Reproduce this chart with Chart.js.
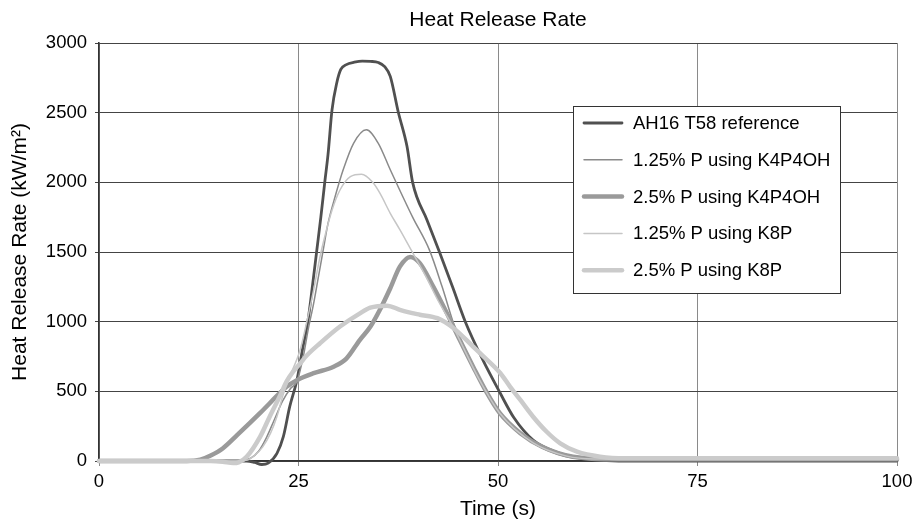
<!DOCTYPE html>
<html><head><meta charset="utf-8">
<script src="https://cdn.jsdelivr.net/npm/chart.js@4/dist/chart.umd.min.js"></script>
<style>html,body{margin:0;padding:0;background:#fff}#wrap{width:914px;height:524px}</style>
</head><body><div id="wrap"><canvas id="c" width="914" height="524"></canvas></div>
<script>
// ---- data ----
const seriesNames = ["AH16 T58 reference", "1.25% P using K4P4OH", "2.5% P using K4P4OH", "1.25% P using K8P", "2.5% P using K8P"];

const refTime = [0,10,18.5,19.5,20.4,21.2,22.3,23.1,23.9,24.8,25.5,26.2,26.8,27.3,27.8,28.3,28.7,29.2,29.8,30.3,31,32,33,34,35,35.8,36.5,37.5,38.6,39.3,41.1,42.7,44.3,45.9,48.1,50.2,52,54.4,57,60,63,66,80,92,100];
const refHRR  = [0,0,0,-10,-25,-15,55,175,390,580,800,1012,1280,1515,1750,2005,2200,2520,2715,2810,2845,2862,2870,2868,2860,2830,2760,2505,2257,2000,1730,1495,1250,1000,725,495,310,150,70,25,5,0,0,0,0];

const k4p125Time = [0,10,17.5,19,20,21,22,23,24,24.8,25.6,26.2,26.9,27.5,28.1,28.7,29.6,30.6,31.9,33.5,35,36.5,39.3,41.4,43,44.6,47.7,50.2,54.4,58.6,62,70,100];
const k4p125HRR  = [0,0,0,20,70,170,300,430,520,570,749,940,1132,1323,1515,1705,1900,2090,2280,2377,2280,2090,1750,1515,1250,960,580,345,130,30,12,10,10];

const k4p25Time = [0,11,12.7,14,15.5,17.3,20.2,22.7,23.5,24.8,26.9,29.4,31,32.7,34,35.2,36.5,37.7,39,40.2,41.9,43.6,45.2,46.9,48.6,50.2,52.8,55.6,59.4,65,80,100];
const k4p25HRR  = [0,0,10,40,90,185,345,490,533,580,630,677,735,870,963,1085,1240,1395,1465,1420,1250,1060,870,675,490,345,200,100,30,12,12,12];

const k8p125Time = [0,17,18.5,19.5,20.5,21.5,22.3,23.1,23.9,25.2,26,26.9,27.7,28.4,29.2,30.2,31.5,32.9,34.3,35.2,36.5,37.7,39.3,41,42.5,44.3,47.7,50.2,54.4,58.6,62,70,100];
const k8p125HRR  = [0,0,5,40,100,200,320,480,605,797,989,1228,1467,1635,1800,1945,2041,2058,2000,1922,1778,1660,1495,1320,1150,970,580,345,130,35,15,15,15];

const k8p25Time = [0,14,15.5,16.8,17.5,18.5,20.2,21.4,22.7,23.5,24.3,25.2,26,27.7,30.2,32.7,34,36.1,37.7,38.6,40.2,42.4,44.4,46.9,48.2,50.3,51.5,52.8,54.4,56.1,57.8,59.9,62.8,66,80,100];
const k8p25HRR  = [0,0,-5,-15,-10,30,175,320,470,570,640,700,755,845,965,1060,1100,1115,1085,1070,1050,1025,955,820,749,630,534,438,318,210,127,67,31,20,20,20];

const xTickValues = [0,25,50,75,100];
const yTickValues = [0,500,1000,1500,2000,2500,3000];

// ---- styles ----
const colors = ['#505050','#8a8a8a','#9a9a9a','#c6c6c6','#cbcbcb'];
const widths = [2.8,1.5,4.5,1.5,4.5];

const zip = (xs, ys) => xs.map((x,i)=>({x:x, y:ys[i]}));
const seriesData = [zip(refTime,refHRR), zip(k4p125Time,k4p125HRR), zip(k4p25Time,k4p25HRR), zip(k8p125Time,k8p125HRR), zip(k8p25Time,k8p25HRR)];

Chart.defaults.font.family = '"Liberation Sans", Arial, sans-serif';
Chart.defaults.color = '#000';

const boxLegend = {
  id: 'boxLegend',
  afterDraw(chart) {
    const ctx = chart.ctx;
    const x0 = 573, y0 = 106, w = 267, h = 187;
    ctx.save();
    ctx.fillStyle = '#fff';
    ctx.fillRect(x0, y0, w, h);
    ctx.strokeStyle = '#333';
    ctx.lineWidth = 1;
    ctx.strokeRect(x0 + 0.5, y0 + 0.5, w, h);
    ctx.font = '18.5px "Liberation Sans", Arial, sans-serif';
    ctx.textBaseline = 'middle';
    ctx.textAlign = 'left';
    chart.data.datasets.forEach((ds, i) => {
      const y = 123 + i * 36.8;
      ctx.strokeStyle = ds.borderColor;
      ctx.lineWidth = ds.borderWidth;
      ctx.lineCap = 'round';
      ctx.beginPath();
      ctx.moveTo(584, y);
      ctx.lineTo(622, y);
      ctx.stroke();
      ctx.fillStyle = '#000';
      ctx.fillText(ds.label, 633, y + 1);
    });
    ctx.restore();
  }
};

new Chart(document.getElementById('c'), {
  type: 'line',
  data: {
    datasets: seriesNames.map((name, i) => ({
      label: name,
      data: seriesData[i],
      borderColor: colors[i],
      backgroundColor: colors[i],
      borderWidth: widths[i],
      pointRadius: 0,
      fill: false,
      cubicInterpolationMode: 'monotone',
      clip: false,
      order: 5 - i,
      borderJoinStyle: 'round',
      borderCapStyle: 'round'
    }))
  },
  options: {
    responsive: false,
    animation: false,
    devicePixelRatio: 1,
    layout: { padding: { left: 0, right: 17, top: 0, bottom: 0 } },
    plugins: {
      legend: { display: false },
      tooltip: { enabled: false },
      title: {
        display: true,
        text: 'Heat Release Rate',
        fullSize: false,
        color: '#000',
        font: { size: 21, weight: 'normal' },
        padding: { top: 8, bottom: 9.8 }
      }
    },
    scales: {
      x: {
        type: 'linear',
        min: 0, max: 100,
        afterFit: s => { s.height = 63; s.paddingLeft = 0; s.paddingRight = 0; },
        afterBuildTicks: s => { s.ticks = xTickValues.map(v => ({ value: v })); },
        ticks: { font: { size: 18.5 }, color: '#000', padding: 5, maxRotation: 0, callback: v => String(v) },
        grid: { color: '#8a8a8a', lineWidth: 1, tickLength: 5, drawTicks: true },
        border: { display: true, color: '#333', width: 1.6 },
        title: { display: true, text: 'Time (s)', color: '#000', font: { size: 21 }, padding: { top: 0, bottom: 2 } }
      },
      y: {
        type: 'linear',
        min: 0, max: 3000,
        afterFit: s => { s.width = 99; },
        afterBuildTicks: s => { s.ticks = yTickValues.map(v => ({ value: v })); },
        ticks: { font: { size: 18.5 }, color: '#000', padding: 8, callback: v => String(v) },
        grid: { color: '#444', lineWidth: 1, tickLength: 4, drawTicks: true },
        border: { display: true, color: '#333', width: 1.6 },
        title: { display: true, text: 'Heat Release Rate (kW/m²)', color: '#000', font: { size: 21 }, padding: { top: 8, bottom: 0 } }
      }
    }
  },
  plugins: [boxLegend]
});
</script>
</body></html>
